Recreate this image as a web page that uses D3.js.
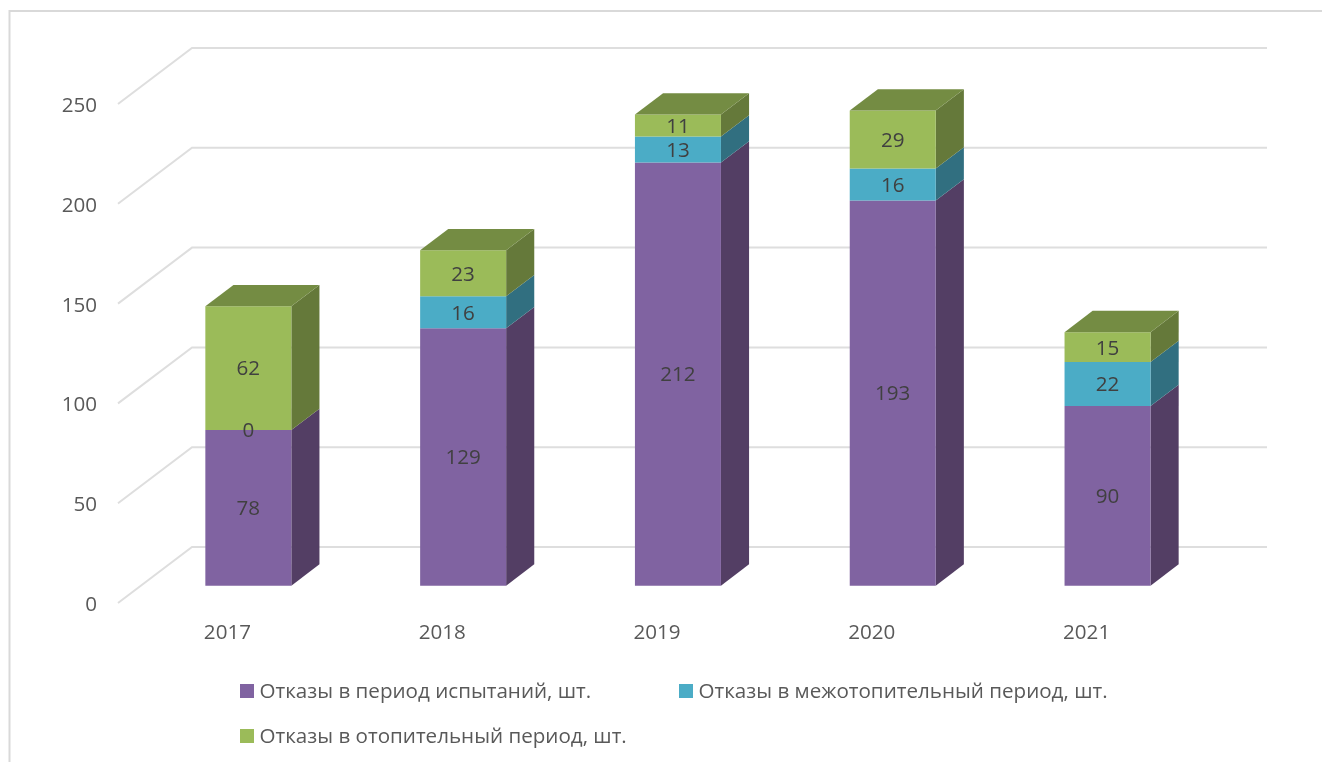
<!DOCTYPE html>
<html>
<head>
<meta charset="utf-8">
<script src="https://d3js.org/d3.v7.min.js"></script>
<style>
    html, body { margin: 0; padding: 0; background: #fff; overflow: hidden; }
    text { font-family: "Open Sans", sans-serif; }
    svg { filter: blur(0.4px); }
</style>
</head>
<body>
<div id="chart"></div>
<script>
const years = ["2017", "2018", "2019", "2020", "2021"];
const testFailures = [78, 129, 212, 193, 90];
const summerFailures = [0, 16, 13, 16, 22];
const heatingFailures = [62, 23, 11, 29, 15];
const yTicks = [0, 50, 100, 150, 200, 250];
const seriesNames = [
    "Отказы в период испытаний, шт.",
    "Отказы в межотопительный период, шт.",
    "Отказы в отопительный период, шт."
];

const width = 1322, height = 762;
const fontSize = 20.6;

// front face colour, side colour, top colour
const shades = [
    {front: "#8063a1", side: "#533e64", top: "#64507a"},
    {front: "#4bacc6", side: "#316f80", top: "#3a8599"},
    {front: "#9bbb59", side: "#65793a", top: "#748c43"}
];

let svg = d3.select("#chart")
    .append("svg")
    .attr("width", width)
    .attr("height", height);

// chart area frame, cut by the window on the right and at the bottom
svg.append("path")
    .attr("d", "M9.5," + height + "V11H" + width)
    .attr("fill", "none")
    .attr("stroke", "#d9d9d9")
    .attr("stroke-width", 2);

let xScale = d3.scaleBand()
    .domain(years)
    .range([120, 1194]);

let yScale = d3.scaleLinear()
    .domain([0, 250])
    .range([603, 104]);

// the fake 3d: depth 0 is the front edge of the floor, depth 1 the back wall
const wallDx = 74, wallDy = -56;
const barDepth = [0.31, 0.69];

let project = (x, value, depth) => [x + wallDx * depth, yScale(value) + wallDy * depth];
let poly = (pts) => pts.map(p => p.join(",")).join(" ");

// gridlines on the side wall and back wall
let grid = svg.append("g");
grid.selectAll("polyline")
    .data(yTicks)
    .enter()
    .append("polyline")
    .attr("points", d => poly([
        project(118, d, 0),
        project(118, d, 1),
        project(1193, d, 1)
    ]))
    .attr("fill", "none")
    .attr("stroke", "#dedede")
    .attr("stroke-width", 2);

let stacked = d3.stack().keys([0, 1, 2])
    .value((d, key) => d[key])(years.map((y, i) => [testFailures[i], summerFailures[i], heatingFailures[i]]));

const barWidth = 86;
let bars = svg.append("g");

years.forEach((year, i) => {
    let x0 = xScale(year) + xScale.bandwidth() / 2 - barWidth / 2 - 2;
    let x1 = x0 + barWidth;
    let g = bars.append("g");

    stacked.forEach((layer, s) => {
        let lo = layer[i][0], hi = layer[i][1];
        if (hi === lo) return;

        // side face
        g.append("polygon")
            .attr("points", poly([
                project(x1, lo, barDepth[0]),
                project(x1, lo, barDepth[1]),
                project(x1, hi, barDepth[1]),
                project(x1, hi, barDepth[0])
            ]))
            .attr("fill", shades[s].side);

        // front face
        g.append("polygon")
            .attr("points", poly([
                project(x0, lo, barDepth[0]),
                project(x1, lo, barDepth[0]),
                project(x1, hi, barDepth[0]),
                project(x0, hi, barDepth[0])
            ]))
            .attr("fill", shades[s].front);
    });

    // top of the whole column
    let total = stacked[2][i][1];
    g.append("polygon")
        .attr("points", poly([
            project(x0, total, barDepth[0]),
            project(x1, total, barDepth[0]),
            project(x1, total, barDepth[1]),
            project(x0, total, barDepth[1])
        ]))
        .attr("fill", shades[2].top);

    // value labels
    stacked.forEach((layer) => {
        let lo = layer[i][0], hi = layer[i][1];
        let p = project((x0 + x1) / 2, (lo + hi) / 2, barDepth[0]);
        g.append("text")
            .attr("x", p[0])
            .attr("y", p[1])
            .attr("dy", "0.36em")
            .attr("text-anchor", "middle")
            .attr("font-size", fontSize)
            .attr("fill", "#404040")
            .text(hi - lo);
    });
});

// axes: only the labels are visible
let yAxis = svg.append("g")
    .attr("transform", "translate(118,1)")
    .call(d3.axisLeft(yScale).tickValues(yTicks).tickSize(0).tickPadding(21));
let xAxis = svg.append("g")
    .attr("transform", "translate(0,624)")
    .call(d3.axisBottom(xScale).tickSize(0).tickPadding(0));

[yAxis, xAxis].forEach(axis => {
    axis.select(".domain").remove();
    axis.selectAll("text")
        .attr("font-family", '"Open Sans", sans-serif')
        .attr("font-size", fontSize)
        .attr("fill", "#595959");
});

// legend
let legendPos = [[240, 684], [679, 684], [240, 729]];
let legend = svg.append("g");
seriesNames.forEach((name, i) => {
    legend.append("rect")
        .attr("x", legendPos[i][0])
        .attr("y", legendPos[i][1])
        .attr("width", 14)
        .attr("height", 14)
        .attr("fill", shades[i].front);
    legend.append("text")
        .attr("x", legendPos[i][0] + 19.5)
        .attr("y", legendPos[i][1] + 7)
        .attr("dy", "0.36em")
        .attr("font-size", fontSize)
        .attr("fill", "#595959")
        .text(name);
});
</script>
</body>
</html>
